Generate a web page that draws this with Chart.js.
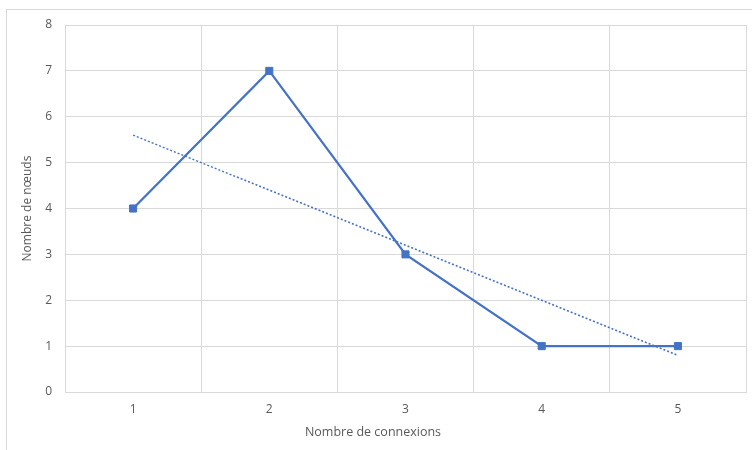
<!DOCTYPE html>
<html>
<head>
<meta charset="utf-8">
<script src="https://cdn.jsdelivr.net/npm/chart.js@4"></script>
<style>
  html, body { margin: 0; padding: 0; background: #fff; overflow: hidden; }
  #wrap { position: relative; width: 752px; height: 450px; }
  #frame { position: absolute; left: 6px; top: 9px; width: 800px; height: 500px; border: 1px solid #d9d9d9; pointer-events: none; }
</style>
</head>
<body>
<div id="wrap">
  <div id="frame"></div>
  <canvas id="chart" width="752" height="450"></canvas>
</div>
<script>
// chart data
const connexions = ["1", "2", "3", "4", "5"];
const noeuds = [4, 7, 3, 1, 1];
const tendance = [5.6, 4.4, 3.2, 2.0, 0.8];

const blue = "#4472C4";
const gridColor = "#d9d9d9";
const textColor = "#595959";
const font = { family: "'Open Sans', sans-serif", size: 12 };

new Chart(document.getElementById("chart"), {
  type: "line",
  data: {
    labels: connexions,
    datasets: [
      {
        label: "Nombre de nœuds",
        data: noeuds,
        borderColor: blue,
        backgroundColor: blue,
        borderWidth: 2.25,
        pointStyle: "rect",
        pointRadius: 5,
        pointBorderWidth: 1,
        tension: 0
      },
      {
        label: "Tendance",
        data: tendance,
        borderColor: blue,
        borderWidth: 1.5,
        borderDash: [2, 2],
        pointRadius: 0,
        tension: 0
      }
    ]
  },
  options: {
    responsive: false,
    animation: false,
    layout: { padding: { top: 25, right: 6, left: 0, bottom: 0 } },
    plugins: {
      legend: { display: false },
      tooltip: { enabled: false },
      // axis title centred on the whole chart, like the original
      title: {
        display: true,
        position: "bottom",
        text: "Nombre de connexions",
        color: textColor,
        font: { family: font.family, size: 12.5, weight: "normal" },
        padding: { top: 0, bottom: 10 }
      }
    },
    scales: {
      x: {
        offset: true,
        grid: { offset: true, color: gridColor, drawTicks: false },
        border: { color: gridColor },
        ticks: { color: textColor, font, padding: 10 },
        afterFit: (scale) => { scale.height = 33; }
      },
      y: {
        min: 0,
        max: 8,
        ticks: { stepSize: 1, color: textColor, font, padding: 13 },
        grid: { color: gridColor, drawTicks: false },
        border: { color: gridColor },
        title: { display: true, text: "Nombre de nœuds", color: textColor, font, padding: { top: 20, bottom: 4 } },
        afterFit: (scale) => { scale.width = 65; }
      }
    }
  }
});
</script>
</body>
</html>
